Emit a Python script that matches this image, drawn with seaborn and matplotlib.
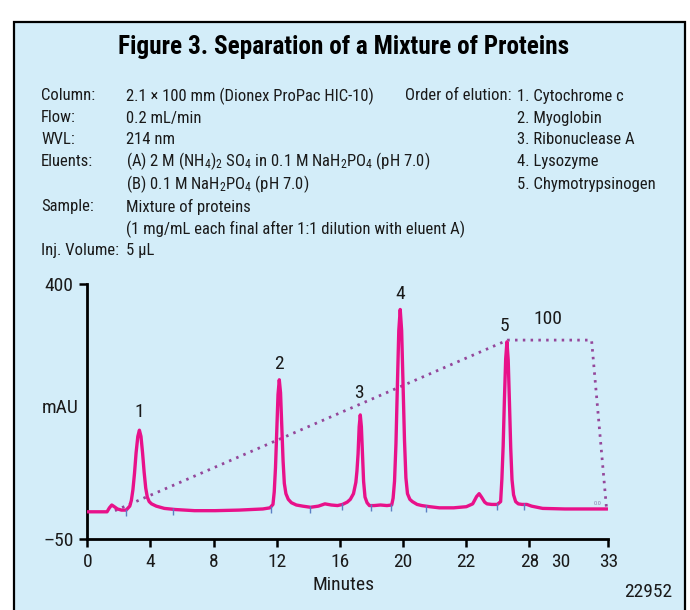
import numpy as np
import pandas as pd
import matplotlib
matplotlib.use("Agg")
import matplotlib.pyplot as plt
from matplotlib import font_manager
from matplotlib.patches import Rectangle
import seaborn as sns

# ---------------- data ----------------
trace_min = [0.0, 1.25, 1.40, 1.55, 1.71, 1.91, 2.16, 2.46, 2.69, 2.79, 2.89, 2.99, 3.09, 3.20, 3.30,
             3.40, 3.50, 3.60, 3.70, 3.80, 3.92, 4.07, 4.37, 4.88, 5.58, 6.79, 8.10, 9.61, 11.12, 11.57,
             11.76, 11.84, 11.92, 12.00, 12.08, 12.16, 12.24, 12.32, 12.40, 12.48, 12.58, 12.73,
             12.93, 13.24, 13.64, 14.14, 14.64, 15.05, 15.45, 15.85, 16.16, 16.46, 16.66, 16.86, 17.01,
             17.08, 17.15, 17.22, 17.29, 17.36, 17.43, 17.50, 17.59, 17.72, 17.87, 18.17, 18.57,
             18.98, 19.28, 19.37, 19.46, 19.55, 19.64, 19.73, 19.82, 19.91, 20.00, 20.09, 20.18,
             20.28, 20.43, 20.59, 20.89, 21.19, 21.69, 22.30, 23.20, 24.01, 24.41, 24.66, 24.82, 24.97,
             25.17, 25.32, 25.62, 25.97, 26.18, 26.26, 26.34, 26.42, 26.50, 26.58, 26.66, 26.74,
             26.82, 26.90, 27.00, 27.13, 27.30, 27.53, 27.84, 28.14, 28.84, 30.25, 32.95]
trace_mau = [-2, -2, 5, 10, 7, 3, 1, 1, 8, 18, 37, 66, 102, 131, 142,
             131, 102, 68, 40, 24, 16, 12, 8, 4, 2, 0, 0, 1, 3, 5,
             11, 33, 76, 140, 205, 231, 208, 148, 88, 48, 30, 20,
             14, 10, 8, 6, 8, 12, 10, 9, 11, 15, 20, 30, 50,
             70, 100, 148, 169, 148, 100, 52, 24, 14, 9, 9, 10,
             9, 10, 22, 52, 118, 220, 318, 355, 318, 222, 125, 58,
             30, 20, 16, 11, 9, 7, 5, 5, 7, 12, 25, 30, 24,
             15, 12, 11, 11, 16, 56, 114, 196, 268, 298, 266, 190,
             110, 55, 28, 16, 12, 11, 11, 8, 4, 3, 3]

gradient_min = [1.75, 26.62, 31.94, 32.9]
gradient_mau = [0, 301, 301, 0]

peak_labels = ["1", "2", "3", "4", "5"]
peak_times = [3.30, 12.16, 17.29, 19.82, 26.58]
peak_heights = [142, 231, 169, 355, 298]

mark_times = [2.45, 5.41, 11.61, 14.10, 16.11, 17.97, 19.22, 21.45, 25.92, 27.63]

xtick_pos = [0, 4, 8, 12, 16, 20, 24, 28, 30, 33]
xtick_labels = ["0", "4", "8", "12", "16", "20", "22", "28", "30", "33"]
ytick_pos = [-50, 400]
ytick_labels = ["\u201350", "400"]

title = "Figure 3. Separation of a Mixture of Proteins"
info_keys = ["Column:", "Flow:", "WVL:", "Eluents:", "", "Sample:", "", "Inj. Volume:"]
info_vals = ["2.1 \u00d7 100 mm (Dionex ProPac HIC-10)",
             "0.2 mL/min",
             "214 nm",
             r"(A) 2 M (NH$_4$)$_2$ SO$_4$ in 0.1 M NaH$_2$PO$_4$ (pH 7.0)",
             r"(B) 0.1 M NaH$_2$PO$_4$ (pH 7.0)",
             "Mixture of proteins",
             "(1 mg/mL each final after 1:1 dilution with eluent A)",
             "5 \u00b5L"]
elution_title = "Order of elution:"
elution = ["1. Cytochrome c", "2. Myoglobin", "3. Ribonuclease A",
           "4. Lysozyme", "5. Chymotrypsinogen"]

# ---------------- style ----------------
sns.set_theme(style="ticks")
names = {f.name for f in font_manager.fontManager.ttflist}
narrow = "Liberation Sans"
for cand in ["Roboto Condensed", "Archivo Narrow", "PT Sans Narrow", "Asap Condensed",
             "Barlow Condensed"]:
    if cand in names:
        narrow = cand
        break
plt.rcParams["font.family"] = [narrow, "DejaVu Sans"]
plt.rcParams["mathtext.fontset"] = "custom"
plt.rcParams["mathtext.rm"] = narrow
plt.rcParams["mathtext.it"] = narrow
plt.rcParams["mathtext.bf"] = narrow + ":bold"

W, H = 690, 610
fig = plt.figure(figsize=(W / 100, H / 100), dpi=100, facecolor="white")
BG = "#d3edf9"
fig.patches.append(Rectangle((14 / W, -0.02), (685 - 14) / W, 1.02 - 22 / H,
                             transform=fig.transFigure, facecolor=BG,
                             edgecolor="black", linewidth=1.6, zorder=-5))

def fx(px):
    return px / W

def fy(py):
    return 1 - py / H

TXT = "#1a1a1a"
FS = 12
fig.text(fx(344), fy(47), title, ha="center", va="center", fontsize=18.2,
         fontweight="bold", color="black")

row_y = [96, 118, 139, 161, 184, 207, 229, 251]
for k, v, y in zip(info_keys, info_vals, row_y):
    if k:
        fig.text(fx(41), fy(y), k, ha="left", va="center", fontsize=FS, color=TXT)
    fig.text(fx(126), fy(y), v, ha="left", va="center", fontsize=FS, color=TXT)
fig.text(fx(405), fy(96), elution_title, ha="left", va="center", fontsize=FS, color=TXT)
for e, y in zip(elution, row_y):
    fig.text(fx(517), fy(y), e, ha="left", va="center", fontsize=FS, color=TXT)

# ---------------- axes ----------------
ax = fig.add_axes([fx(87.3), fy(539), (608.3 - 87.3) / W, (539 - 284) / H])
ax.set_facecolor("none")

df_trace = pd.DataFrame({"Minutes": trace_min, "mAU": trace_mau})
df_grad = pd.DataFrame({"Minutes": gradient_min, "mAU": gradient_mau})

sns.lineplot(data=df_grad, x="Minutes", y="mAU", ax=ax, color="#94479a",
             linewidth=2.0, linestyle=(0, (0.9, 1.9)), sort=False, zorder=2)
sns.lineplot(data=df_trace, x="Minutes", y="mAU", ax=ax, color="#e8118a",
             linewidth=2.4, sort=False, zorder=3)

mark_y = np.interp(mark_times, trace_min, trace_mau)
ax.vlines(mark_times, mark_y - 10, mark_y + 2, color="#5b7fc4", linewidth=1.0, zorder=4)

label_offsets = [(0, 13), (0, 11), (-1, 16), (0, 11), (-1.5, 11.5)]
for lab, t, h, off in zip(peak_labels, peak_times, peak_heights, label_offsets):
    ax.annotate(lab, (t, h), xytext=off, textcoords="offset points",
                ha="center", va="center", fontsize=14, color=TXT)
ax.annotate("100", (gradient_min[1], gradient_mau[1]), xytext=(29, 15),
            textcoords="offset points", ha="center", va="center", fontsize=14, color=TXT)
ax.annotate("0.0", (gradient_min[3], gradient_mau[3]), xytext=(-6.3, 5.5),
            textcoords="offset points", ha="center", va="center", fontsize=4.5,
            color="#8a7fb0")

ax.set_xlim(0, 33)
ax.set_ylim(-50, 400)
ax.set_xticks(xtick_pos)
ax.set_xticklabels(xtick_labels)
ax.set_yticks(ytick_pos)
ax.set_yticklabels(ytick_labels)
ax.tick_params(axis="both", direction="out", length=6, width=1.8, colors="black",
               labelsize=14, labelcolor=TXT, pad=4)
# the reference prints "30" without a tick mark
ax.xaxis.get_major_ticks()[xtick_pos.index(30)].tick1line.set_visible(False)
for s in ["top", "right"]:
    ax.spines[s].set_visible(False)
for s in ["left", "bottom"]:
    ax.spines[s].set_linewidth(2.0)
    ax.spines[s].set_color("black")
ax.set_xlabel("")
ax.set_ylabel("")

fig.text(fx(60), fy(408), "mAU", ha="center", va="center", fontsize=14, color=TXT)
fig.text(fx(344), fy(585), "Minutes", ha="center", va="center", fontsize=14, color=TXT)
fig.text(fx(672), fy(592), "22952", ha="right", va="center", fontsize=14, color=TXT)

fig.savefig("out.png", dpi=100, facecolor="white")
